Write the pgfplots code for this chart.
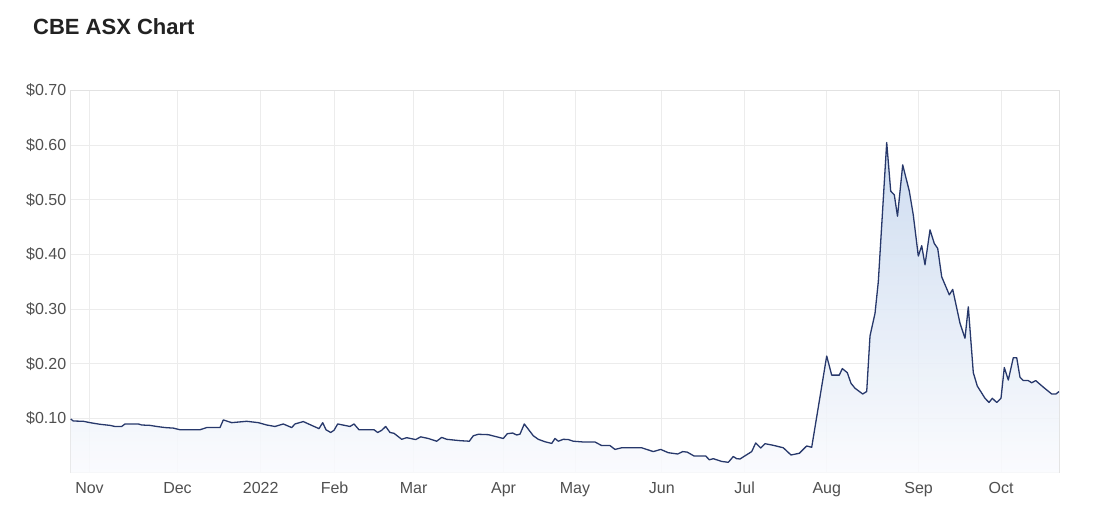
\documentclass[border=0pt]{standalone}
\usepackage{fontspec}
\setmainfont{Liberation Sans}
\usepackage{pgfplots}
\usepackage{pgfplotstable}
\pgfplotsset{compat=1.18}
\definecolor{linecol}{HTML}{27386B}
\definecolor{titlecol}{HTML}{222222}
\definecolor{tickcol}{HTML}{505050}
\definecolor{gridcol}{HTML}{ECECEC}
\definecolor{framecol}{HTML}{E2E2E2}
\definecolor{filltop}{HTML}{C6D7EE}
\definecolor{fillbot}{HTML}{FAFBFE}

\pgfplotstableread{
x y
70.7 0.0987
73.3 0.095
83.3 0.0945
90 0.092
100 0.089
110 0.087
115 0.085
121.7 0.085
125 0.0896
138.3 0.0896
141.7 0.0877
150 0.087
156.7 0.085
165 0.083
173.3 0.082
180 0.079
200 0.079
206.7 0.083
220 0.083
223.3 0.097
231.7 0.092
246.7 0.0945
258.3 0.092
266.7 0.0877
275 0.085
283.3 0.0896
291.7 0.083
295 0.0896
303.3 0.094
311.7 0.087
319 0.081
322.7 0.092
326 0.079
330.7 0.074
334 0.078
337.7 0.0896
350 0.085
354 0.0896
359 0.079
374 0.079
377.7 0.074
381.7 0.078
385.7 0.085
390 0.074
394 0.0725
401.7 0.0615
406.7 0.0645
415.7 0.061
420.7 0.066
428.3 0.063
436.7 0.058
441.7 0.065
446.7 0.0615
460 0.059
469.3 0.058
473.3 0.068
478.3 0.0707
488.3 0.070
503.3 0.063
507.3 0.0718
512.7 0.073
516.7 0.0694
520 0.071
524.3 0.0896
533.3 0.068
538.3 0.0615
545 0.057
551.7 0.054
555 0.063
558.3 0.058
563.3 0.0615
568.3 0.061
573.3 0.058
583.3 0.0566
595 0.0566
601.7 0.050
610 0.050
615 0.043
621.7 0.046
641.7 0.046
653.3 0.039
660.7 0.043
668.3 0.037
677.7 0.0346
682.7 0.039
687.3 0.038
694 0.031
705.7 0.031
709.3 0.024
713.3 0.026
721.7 0.021
728.3 0.0194
733.3 0.030
736.7 0.026
740 0.0255
751.7 0.039
755.7 0.0548
760.7 0.0456
765 0.0535
773.3 0.0505
783.3 0.046
791 0.0328
799.3 0.0359
806.7 0.0493
811.7 0.0469
826.7 0.214
831.7 0.179
839.3 0.179
842.3 0.191
847.3 0.1835
851 0.164
855 0.155
862.7 0.1445
866.7 0.149
870 0.2507
875 0.292
878.3 0.350
886.7 0.605
890.7 0.516
894.3 0.509
897.5 0.470
902.7 0.564
909.3 0.516
913.3 0.472
918.3 0.397
921.7 0.416
925 0.381
930 0.445
934.3 0.420
937.7 0.411
941.7 0.359
949.3 0.326
952.7 0.336
960 0.274
965 0.2465
968.3 0.304
973.3 0.1835
977.3 0.159
985 0.1366
989 0.129
992.3 0.1366
996.7 0.129
1001 0.1366
1004.3 0.193
1008.3 0.170
1013.3 0.211
1016.7 0.211
1020 0.175
1023.3 0.169
1028.3 0.169
1031.7 0.165
1035.7 0.169
1043.3 0.157
1051.7 0.1445
1056 0.1445
1059 0.149
}\pricedata

\begin{document}
\begin{tikzpicture}
\path[use as bounding box, fill=white] (0pt,0pt) rectangle (1120pt,524pt);
\node[anchor=base west, inner sep=0pt, text=titlecol,
      font=\fontsize{22}{26}\selectfont\bfseries] at (33pt,489.7pt) {CBE ASX Chart};
\begin{axis}[
  at={(70.7pt,51.1pt)}, anchor=south west,
  scale only axis, width=988.3pt, height=382.3pt,
  xmin=70.7, xmax=1059, ymin=0, ymax=0.7,
  xtick={89.5,177.5,260.7,334.6,413.6,503.6,575,661.8,744.6,826.8,918.6,1001},
  xticklabels={Nov,Dec,2022,Feb,Mar,Apr,May,Jun,Jul,Aug,Sep,Oct},
  ytick={0.1,0.2,0.3,0.4,0.5,0.6,0.7},
  yticklabels={\$0.10,\$0.20,\$0.30,\$0.40,\$0.50,\$0.60,\$0.70},
  major tick length=0pt,
  grid=major,
  major grid style={draw=gridcol, line width=0.9pt},
  axis line style={draw=framecol, line width=0.9pt},
  tick label style={font=\fontsize{16}{19}\selectfont, text=tickcol},
  xticklabel style={text height=11.5pt, yshift=-6pt},
  yticklabel style={xshift=-1pt},
  clip=false,
]
\addplot[draw=none, top color=filltop, bottom color=fillbot, fill opacity=0.85, forget plot]
  table[x=x, y=y] {\pricedata} \closedcycle;
\addplot[color=linecol, line width=1.3pt, line join=round, mark=none]
  table[x=x, y=y] {\pricedata};
\end{axis}
\end{tikzpicture}
\end{document}
